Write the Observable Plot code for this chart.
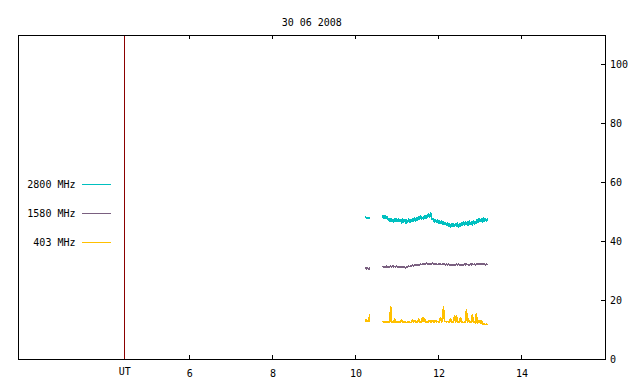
<!DOCTYPE html>
<html>
<head>
<meta charset="utf-8">
<script src="https://cdn.jsdelivr.net/npm/d3@7"></script>
<script src="https://cdn.jsdelivr.net/npm/@observablehq/plot@0.6"></script>
<style>
html,body{margin:0;padding:0;background:#fff;overflow:hidden;}
</style>
</head>
<body>
<div id="chart"></div>
<script>
const title = "30 06 2008";
const seriesNames = ["2800 MHz", "1580 MHz", "403 MHz"];
const seriesColors = ["#00c0c0", "#7a6080", "#ffc000"];
const xTicks = [6, 8, 10, 12, 14];
const yTicks = [0, 20, 40, 60, 80, 100];
const utTime = [4.434];
const utLabel = "UT";

// segment time spans (hours UT)
const preSpan = [10.234, 10.33];
const mainSpan = [10.645, 13.166];

// 2800 MHz
const v2800pre = [48.3, 47.8, 48.4, 47.7, 48.1];
const v2800 = [
  48.9, 47.8, 49.0, 47.6, 48.6, 47.3,
  47.9, 46.6, 48.0, 46.8, 47.7, 46.5, 48.1, 46.7, 47.9, 46.6, 47.8, 46.9,
  47.6, 46.2, 47.9, 46.5, 47.8, 46.0, 47.5, 46.4, 47.9, 46.3, 47.6, 46.6, 48.0, 46.7, 48.2, 46.9, 48.4,
  47.2, 48.6, 47.4, 48.9, 47.6, 48.4, 47.3, 49.1, 47.7, 48.8,
  48.2, 49.6, 48.0, 49.9, 48.3,
  47.3, 48.0, 46.4, 47.6, 46.3, 47.5, 46.1, 47.3,
  45.9, 47.2, 45.8, 46.9, 45.6, 46.7, 45.4,
  46.5, 45.0, 46.3, 44.8, 46.1, 45.2, 46.4, 44.9, 46.2, 45.1, 46.5, 44.8, 46.3, 45.0, 46.6, 45.3,
  46.8, 45.4, 47.0, 45.6, 46.9, 45.3, 47.2, 45.7, 46.8, 45.5, 47.3, 45.9, 47.1, 46.0,
  47.8, 46.4, 48.0, 46.7, 47.9, 46.5, 48.2, 46.8, 48.1, 46.9, 47.8
];

// 1580 MHz
const v1580pre = [31.2, 30.7, 31.1, 30.6, 31.0];
const v1580 = [
  31.6, 31.2, 31.7, 31.3, 31.8, 31.2, 31.7, 31.4, 31.8, 31.3, 31.9, 31.4, 31.7, 31.3, 31.8, 31.2, 31.6, 31.3,
  31.7, 31.1, 31.6, 31.2, 31.5, 31.0, 31.6, 31.3, 31.8, 31.4, 32.0, 31.6, 32.1, 31.7, 32.2, 31.8, 32.3,
  31.9, 32.4, 32.0, 32.5, 32.1, 32.6, 32.2, 32.7, 32.3, 32.8, 32.3, 32.7, 32.2, 32.6, 32.3, 32.8, 32.2, 32.6, 32.3, 32.5,
  32.1, 32.6, 32.2, 32.5, 32.1, 32.6, 32.2, 32.5, 32.0, 32.4, 32.1, 32.5, 31.9, 32.3, 31.8, 32.4, 31.9, 32.3, 31.8, 32.5, 32.0, 32.6, 31.9, 32.3, 32.0, 32.4,
  31.9, 32.5, 32.0, 32.6, 32.1, 32.4, 31.9, 32.5, 32.0, 32.6, 32.1, 32.5, 32.0, 32.4, 32.1, 32.6, 32.2, 32.5, 32.1, 32.6, 32.2, 32.5, 32.1, 32.4, 32.3
];

// 403 MHz
const v403pre = [13.0, 13.8, 12.9, 13.1, 12.8, 15.3];
const v403 = [
  12.9, 12.6, 13.0, 12.5, 12.9, 12.6, 13.0, 12.5, 18.0, 12.6,
  12.9, 12.5, 13.9, 12.6, 12.9, 12.4, 12.8, 12.5, 12.9, 13.6,
  12.6, 12.9, 12.4, 12.8, 12.5, 12.9, 12.4, 12.8, 12.5, 12.9,
  13.5, 12.6, 13.4, 12.7, 12.9, 12.5, 13.9, 12.6, 12.9, 12.5,
  14.5, 12.7, 13.9, 12.6, 12.9, 12.5, 12.9, 13.3, 12.6, 12.9,
  13.3, 12.6, 12.9, 13.3, 12.7, 13.0, 12.6, 12.9, 14.4, 12.7,
  13.0, 18.0, 12.8, 13.0, 12.7, 13.0, 12.6, 12.9, 13.9, 12.6,
  12.9, 12.5, 14.9, 12.6, 14.9, 12.5, 12.9, 12.6, 14.4, 12.6,
  12.9, 12.5, 12.8, 12.6, 17.0, 12.5, 13.9, 12.6, 12.8, 12.4,
  15.3, 12.5, 12.8, 12.3, 15.6, 12.2, 12.6, 13.3, 12.3, 13.4,
  12.1, 11.9, 12.2, 11.8, 12.1, 11.9
];

function segment(name, seg, span, values) {
  const n = values.length;
  return values.map((v, i) => ({
    series: name,
    seg: name + "-" + seg,
    t: span[0] + i * (span[1] - span[0]) / (n - 1),
    v
  }));
}

const data = [
  ...segment(seriesNames[0], "a", preSpan, v2800pre),
  ...segment(seriesNames[0], "b", mainSpan, v2800),
  ...segment(seriesNames[1], "a", preSpan, v1580pre),
  ...segment(seriesNames[1], "b", mainSpan, v1580),
  ...segment(seriesNames[2], "a", preSpan, v403pre),
  ...segment(seriesNames[2], "b", mainSpan, v403)
];

const W = 640, H = 384;
const mL = 18, mR = 35.5, mT = 35, mB = 25;
const frameW = W - mL - mR, frameH = H - mT - mB;
const font = "'DejaVu Sans Mono', 'Liberation Mono', monospace";

const chart = Plot.plot({
  width: W,
  height: H,
  marginLeft: mL,
  marginRight: mR,
  marginTop: mT,
  marginBottom: mB,
  style: {fontFamily: font, fontSize: "10px", color: "#000", background: "#fff"},
  x: {domain: [1.872, 16.0], axis: null, label: null},
  y: {domain: [0, 110], axis: null, label: null},
  color: {domain: seriesNames, range: seriesColors},
  marks: [
    Plot.ruleX(utTime, {stroke: "#8b0000", strokeWidth: 1, shapeRendering: "crispEdges"}),
    Plot.line(data, {x: "t", y: "v", z: "seg", stroke: "series", strokeWidth: 1.6, strokeLinejoin: "miter", shapeRendering: "crispEdges"}),
    // inward ticks bottom and top
    Plot.ruleX(xTicks, {stroke: "#000", insetTop: frameH - 4, shapeRendering: "crispEdges"}),
    Plot.ruleX(xTicks, {stroke: "#000", insetBottom: frameH - 4, shapeRendering: "crispEdges"}),
    // inward ticks on right
    Plot.ruleY(yTicks.filter(d => d > 0), {stroke: "#000", insetLeft: frameW - 4, shapeRendering: "crispEdges"}),
    Plot.axisX({ticks: xTicks, tickSize: 0, tickPadding: 10, tickFormat: d => String(d), fontSize: 10, label: null}),
    Plot.axisX({ticks: utTime, tickSize: 0, tickPadding: 8, tickFormat: () => utLabel, fontSize: 10, label: null}),
    Plot.axisY({anchor: "right", ticks: yTicks, tickSize: 0, tickPadding: 5, tickFormat: d => String(d), fontSize: 10, label: null}),
    Plot.frame({stroke: "#000", strokeWidth: 1, shapeRendering: "crispEdges"}),
    Plot.text([title], {frameAnchor: "top", dy: -17, fontSize: 10, fill: "#000"})
  ]
});

// legend (gnuplot style, inside left of plot)
const svg = d3.select(chart);
const legendY = [184, 213, 242];
seriesNames.forEach((name, i) => {
  const g = svg.append("g");
  g.append("text")
    .attr("x", 75.5).attr("y", legendY[i] + 0.5)
    .attr("dy", "0.35em")
    .attr("text-anchor", "end")
    .attr("font-family", font)
    .attr("font-size", 10)
    .attr("fill", "#000")
    .text(name);
  g.append("rect")
    .attr("x", 82).attr("width", 29)
    .attr("y", legendY[i]).attr("height", 1)
    .attr("fill", seriesColors[i])
    .attr("shape-rendering", "crispEdges");
});

document.getElementById("chart").appendChild(chart);
</script>
</body>
</html>
